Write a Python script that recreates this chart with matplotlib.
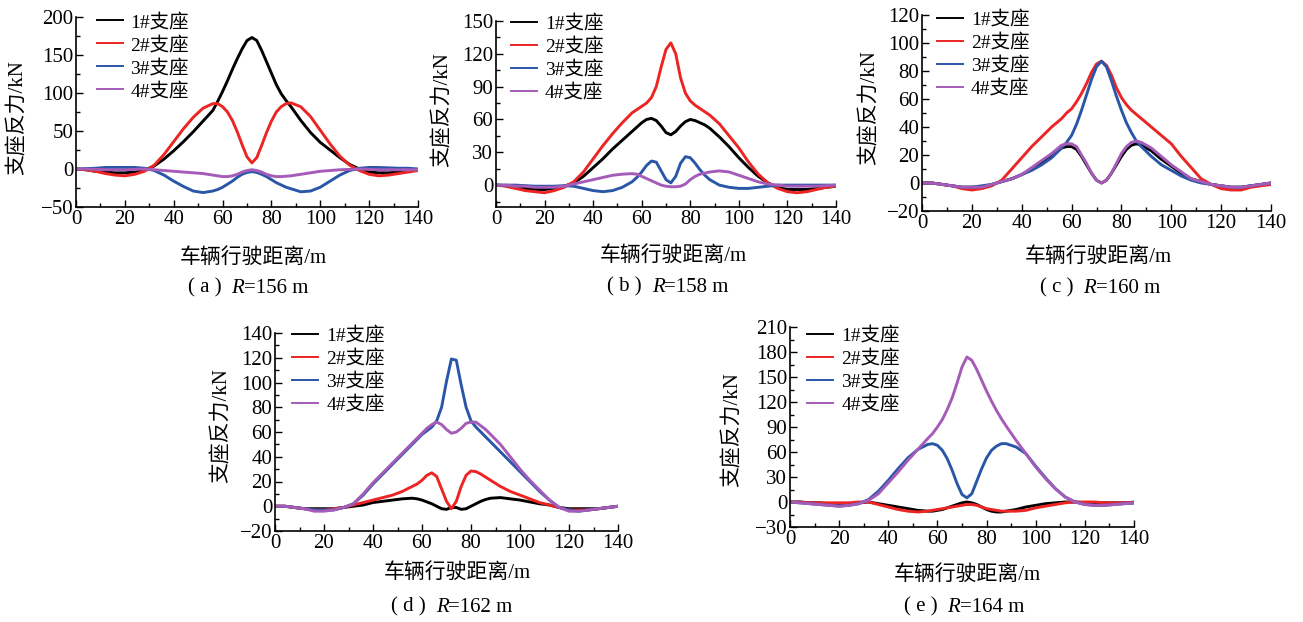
import matplotlib
matplotlib.use("Agg")
import matplotlib.pyplot as plt
from matplotlib.ticker import MultipleLocator
from matplotlib.offsetbox import TextArea, HPacker, AnnotationBbox

plt.rcParams['font.family'] = ['Liberation Serif', 'Noto Sans CJK SC']
plt.rcParams['axes.unicode_minus'] = True

# --- 数据 ---
x = [0, 4, 8, 12, 16, 20, 24, 28, 32, 36, 40, 44, 48, 52,
     56, 58, 60, 62, 64, 66, 68, 70, 72, 74, 76, 78, 80, 82, 84, 86, 88,
     92, 96, 100, 104, 108, 112, 116, 120, 124, 128, 132, 136, 140]

labels = ['1#支座', '2#支座', '3#支座', '4#支座']
colors = ['#000000', '#ec2424', '#2a56a8', '#a55cb8']

# (a) R=156 m
a1 = [0, -1, -3, -4, -5, -5, -4, -2, 4, 13, 24, 36, 49, 63,
      77, 89, 102, 116, 131, 145, 158, 169, 173, 169, 156, 141, 126, 111, 99, 90, 82,
      64, 48, 35, 25, 15, 6, 0, -4, -5, -5, -4, -2, -1]
a2 = [0, -1, -3, -6, -8, -9, -7, -3, 5, 19, 36, 53, 68, 80,
      86, 86, 82, 75, 64, 49, 32, 16, 8, 15, 31, 48, 63, 75, 82, 86, 87,
      82, 69, 51, 33, 17, 5, -2, -7, -9, -8, -6, -4, -2]
a3 = [0, 0.5, 1, 2, 2, 2, 2, 1, -2, -8, -16, -23, -29, -31,
      -29, -27, -24, -20, -16, -11, -7, -4.5, -3.5, -4.5, -7, -10, -14, -18, -21, -24, -26,
      -30, -29, -24, -16, -8, -2, 1, 2, 2, 1.5, 1, 1, 0]
a4 = [0, 0, -0.5, -1, -1, -1, -0.5, 0, -1, -2, -3, -4, -5, -6,
      -8, -9, -10, -10, -9, -7, -4, -2, -1, -2, -4, -7, -9, -10, -10, -9.5, -9,
      -7, -5, -3, -2, -1, -0.5, 0, -0.5, -1, -1, -1, -1, -1]

# (b) R=158 m
b1 = [0, -0.5, -2, -3, -4, -4, -3, -1, 2, 8, 16, 24, 33, 41,
      49, 53, 57, 60, 61, 59, 54, 48, 46, 49, 54, 58, 60, 59, 57, 55, 52,
      44, 35, 25, 16, 8, 2, -2, -4, -4, -4, -3, -2, -1]
b2 = [0, -1, -3, -5, -6, -7, -5, -2, 3, 12, 24, 36, 47, 57,
      66, 69, 72, 75, 80, 90, 108, 124, 130, 120, 98, 84, 77, 73, 70, 67, 64,
      56, 45, 34, 21, 10, 2, -3, -6, -7, -6, -4, -2, -1]
b3 = [0, 0, 0, -0.5, -1, -1, -1, -0.5, -1, -3, -5, -6, -5, -2,
      3, 7, 12, 18, 22, 21, 13, 5, 2, 8, 20, 26, 25, 20, 14, 9, 5,
      0, -2, -3, -3, -2, -1, 0, 0, 0, 0, 0, 0, 0]
b4 = [0, 0, -1, -1, -2, -2, -2, -1, 1, 3, 5, 7, 9, 10,
      10.5, 10, 8, 6, 4, 2, 0, -1, -1.5, -1.5, -1, 1, 5, 8, 10, 11, 12,
      13, 12, 9, 6, 3, 1, 0, -1, -1, -1, -1, -0.5, 0]

# (c) R=160 m
c1 = [0, 0, -1, -2, -3, -3, -3, -1, 1, 3, 6, 10, 15, 20,
      25, 26, 26, 24, 19, 13, 7, 2, 0, 2, 7, 13, 19, 24, 27, 28, 27,
      23, 17, 12, 7, 3, 1, -1, -2, -3, -3, -2, -1, 0]
c2 = [0, 0, -1, -2, -4, -5, -4, -2, 2, 10, 18, 26, 33, 40,
      46, 50, 53, 58, 64, 71, 79, 85, 87, 84, 77, 68, 61, 56, 52, 49, 46,
      40, 34, 28, 19, 11, 3, -1, -4, -5, -5, -3, -2, -1]
c3 = [0, 0, -1, -2, -3, -3, -2, -1, 1, 3, 6, 9, 13, 18,
      25, 29, 34, 42, 52, 63, 74, 83, 87, 83, 73, 62, 52, 43, 36, 30, 26,
      19, 13, 9, 5, 2, 0, -1, -2, -3, -3, -2, -1, 0]
c4 = [0, 0, -1, -2, -3, -3, -3, -1, 1, 3, 6, 11, 16, 21,
      27, 28, 28, 26, 20, 14, 7, 2, 0, 2, 7, 14, 21, 26, 29, 30, 29,
      25, 19, 13, 8, 3, 1, -1, -2, -3, -3, -2, -1, 0]

# (d) R=162 m
d1 = [0, 0, -1, -2, -2, -2, -2, -1, 0, 1, 3, 4, 5, 6,
      6.5, 6, 5, 3.5, 2, 0, -2, -2.5, -1, -1, -2.5, -2, 0, 2, 4, 5.5, 6.5,
      7, 6, 5, 3.5, 2, 1, -1, -2, -2, -2, -2, -1, 0]
d2 = [0, 0, -1, -2, -3, -3, -2, -1, 1, 3, 5, 7, 9, 12,
      16, 18, 21, 25, 27, 24, 14, 4, -2, 4, 16, 25, 28.5, 28, 26, 23.5, 21,
      16, 12, 9, 6, 3, 1, -1, -3, -3, -3, -2, -1, 0]
d3 = [0, 0, -1, -2, -3, -3, -3, -1, 2, 9, 18, 26, 34, 42,
      50, 54, 58, 61, 64, 69, 80, 101, 119, 118, 98, 80, 69, 64, 60, 56, 52,
      44, 36, 28, 20, 12, 5, -1, -3, -4, -3, -2, -1, 0]
d4 = [0, 0, -1, -2, -4, -4, -3, -1, 2, 10, 19, 27, 35, 43,
      51, 55, 59, 63, 66, 68, 66, 62, 59, 60, 63, 67, 68, 68, 65, 62, 58,
      50, 40, 30, 21, 13, 5, -1, -4, -4, -3, -2, -1, 0]

# (e) R=164 m
e1 = [0, 0, -1, -1, -2, -2, -2, -1, 0, -2, -4, -6, -8, -10,
      -11, -11, -10, -9, -7, -5, -3, -1, 0, -1, -3, -6, -9, -11, -12, -12, -11,
      -9, -6, -4, -2, -1, 0, 0, -1, -1, -1, -1, -1, -1]
e2 = [0, 0, -1, -1, -1, -1, -1, 0, 0, -3, -6, -9, -11, -12,
      -11, -10, -9, -8, -7, -6, -5, -4, -3, -3, -4, -6, -8, -9, -10, -11, -11,
      -11, -10, -7, -5, -3, -1, 0, 0, 0, -1, -1, -1, 0]
e3 = [0, -1, -2, -3, -4, -5, -4, -2, 3, 13, 26, 40, 53, 63,
      69, 70, 68, 62, 52, 38, 22, 9, 5, 10, 25, 40, 53, 62, 67, 70, 70,
      66, 58, 43, 29, 16, 6, 0, -3, -4, -4, -3, -2, -1]
e4 = [0, -1, -2, -3, -4, -5, -4, -2, 2, 10, 23, 36, 50, 63,
      76, 82, 90, 99, 111, 125, 143, 162, 174, 170, 159, 146, 133, 121, 110, 100, 91,
      74, 58, 42, 28, 16, 6, 0, -3, -4, -4, -3, -2, -1]

panels = [
    ('a', '156', [a1, a2, a3, a4], (-50, 200), 50),
    ('b', '158', [b1, b2, b3, b4], (-20, 150), 30),
    ('c', '160', [c1, c2, c3, c4], (-20, 120), 20),
    ('d', '162', [d1, d2, d3, d4], (-20, 140), 20),
    ('e', '164', [e1, e2, e3, e4], (-30, 210), 30),
]

# --- 版面 (像素) ---
W, H = 1303, 622
# 轴框: left, top, right, bottom
boxes = [(76, 17, 418, 207), (496, 21, 836, 207), (922, 15, 1271, 211),
         (275, 333, 618, 531), (790, 327, 1134, 527)]
xlab_pos = [(253, 258), (673, 256), (1098, 257), (457, 573), (967, 575)]
cap_pos = [(248, 288), (668, 287), (1100, 288), (452, 607), (964, 607)]
ylab_pos = [(18, 118), (443, 110), (870, 108), (222, 426), (733, 430)]
leg_anchor = [(0.06, 1.02), (0.044, 1.033), (0.043, 1.02), (0.05, 1.03), (0.05, 1.0)]

fig = plt.figure(figsize=(W / 100, H / 100), dpi=100)

for i, (tag, R, series, ylim, ymaj) in enumerate(panels):
    l, t, r, b = boxes[i]
    ax = fig.add_axes([l / W, 1 - b / H, (r - l) / W, (b - t) / H])
    for y, c, lab in zip(series, colors, labels):
        ax.plot(x, y, color=c, lw=2.1, label=lab, solid_joinstyle='round')
    ax.set_xlim(0, 140)
    ax.set_ylim(*ylim)
    ax.xaxis.set_major_locator(MultipleLocator(20))
    ax.xaxis.set_minor_locator(MultipleLocator(10))
    ax.yaxis.set_major_locator(MultipleLocator(ymaj))
    ax.yaxis.set_minor_locator(MultipleLocator(ymaj / 2))
    ax.tick_params(which='both', direction='in', top=False, right=False,
                   labelsize=15, width=1.0)
    ax.tick_params(which='major', length=5, pad=2)
    ax.tick_params(which='minor', length=3)
    for s in ['top', 'right']:
        ax.spines[s].set_visible(False)
    for s in ['left', 'bottom']:
        ax.spines[s].set_linewidth(1.2)

    leg = ax.legend(loc='upper left', bbox_to_anchor=leg_anchor[i], frameon=False,
                    fontsize=14, handlelength=1.35, handletextpad=0.4,
                    labelspacing=0.26, borderaxespad=0, borderpad=0)
    for ln in leg.get_lines():
        ln.set_linewidth(1.4)

    xp, yp = xlab_pos[i]
    fig.text(xp / W, 1 - yp / H, '车辆行驶距离/m', fontsize=15, ha='center', va='center')
    xp, yp = ylab_pos[i]
    fig.text(xp / W, 1 - yp / H, '支座反力/kN', fontsize=15, ha='center', va='center',
             rotation=90)

    # 图注: ( a ) R=156 m, R 为斜体
    parts = HPacker(children=[
        TextArea('( ' + tag + ' )', textprops=dict(fontsize=15)),
        HPacker(children=[
            TextArea('R', textprops=dict(fontsize=15, style='italic')),
            TextArea('=' + R + ' m', textprops=dict(fontsize=15)),
        ], align='baseline', pad=0, sep=0),
    ], align='baseline', pad=0, sep=7)
    xp, yp = cap_pos[i]
    ab = AnnotationBbox(parts, (xp / W, 1 - yp / H), xycoords='figure fraction',
                        frameon=False, box_alignment=(0.5, 0.5))
    fig.add_artist(ab)

fig.savefig('out.png', dpi=100)
